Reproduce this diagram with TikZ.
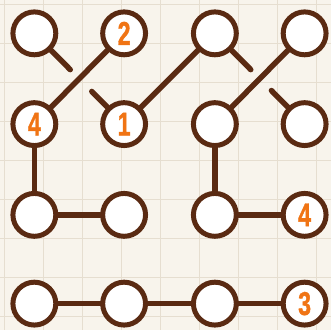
\documentclass[tikz,border=0pt]{standalone}
\usepackage{fontspec}
\usepackage{tikz}
\usetikzlibrary{calc}
\newfontfamily\numfont[FakeStretch=0.7,FakeBold=1.2]{Liberation Sans}
\definecolor{paper}{HTML}{F8F4EC}
\definecolor{gridtan}{HTML}{E6DED0}
\definecolor{bark}{HTML}{5A2A12}
\definecolor{clue}{HTML}{F07414}

\begin{document}
\begin{tikzpicture}[
    x=1pt, y=-1pt,
    line cap=round,
    spot/.style={circle, draw=bark, fill=white, line width=5pt, minimum size=43pt, inner sep=0pt,
                 font=\numfont\bfseries\fontsize{33}{33}\selectfont, text=clue},
    link/.style={draw=bark, line width=5.5pt},
    gridline/.style={draw=gridtan, line width=0.9pt}
]

% Paper and grid
\fill[paper] (0,0) rectangle (331,330);
\foreach \k in {0,...,8} {
  \draw[gridline] ({4+39.1*\k},0) -- ++(0,330);
  \draw[gridline] (0,{4+39.1*\k}) -- ++(331,0);
}
\useasboundingbox (0,0) rectangle (331,330);

% Row 1
\node[spot] (c11) at (34,33) {};
\node[spot] (c12) at (124,33) {2};
\node[spot] (c13) at (215,33) {};
\node[spot] (c14) at (305,33) {};

% Row 2
\node[spot] (c21) at (34,124) {4};
\node[spot] (c22) at (124,124) {1};
\node[spot] (c23) at (215,124) {};
\node[spot] (c24) at (305,124) {};

% Row 3
\node[spot] (c31) at (34,215) {};
\node[spot] (c32) at (124,215) {};
\node[spot] (c33) at (215,215) {};
\node[spot] (c34) at (305,215) {4};

% Row 4
\node[spot] (c41) at (34,304) {};
\node[spot] (c42) at (124,304) {};
\node[spot] (c43) at (215,304) {};
\node[spot] (c44) at (305,304) {3};

% Half bridges
\coordinate (s11) at ($(c11)!0.40!(c22)$);
\coordinate (s22) at ($(c22)!0.36!(c11)$);
\coordinate (s13) at ($(c13)!0.40!(c24)$);
\coordinate (s24) at ($(c24)!0.37!(c13)$);
\draw[link] (c11) -- (s11);
\draw[link] (c22) -- (s22);
\draw[link] (c13) -- (s13);
\draw[link] (c24) -- (s24);

% Bridges
\draw[link] (c12) -- (c21);
\draw[link] (c22) -- (c13);
\draw[link] (c14) -- (c23);
\draw[link] (c21) -- (c31);
\draw[link] (c31) -- (c32);
\draw[link] (c23) -- (c33);
\draw[link] (c33) -- (c34);
\draw[link] (c41) -- (c42);
\draw[link] (c42) -- (c43);
\draw[link] (c43) -- (c44);

\end{tikzpicture}
\end{document}
